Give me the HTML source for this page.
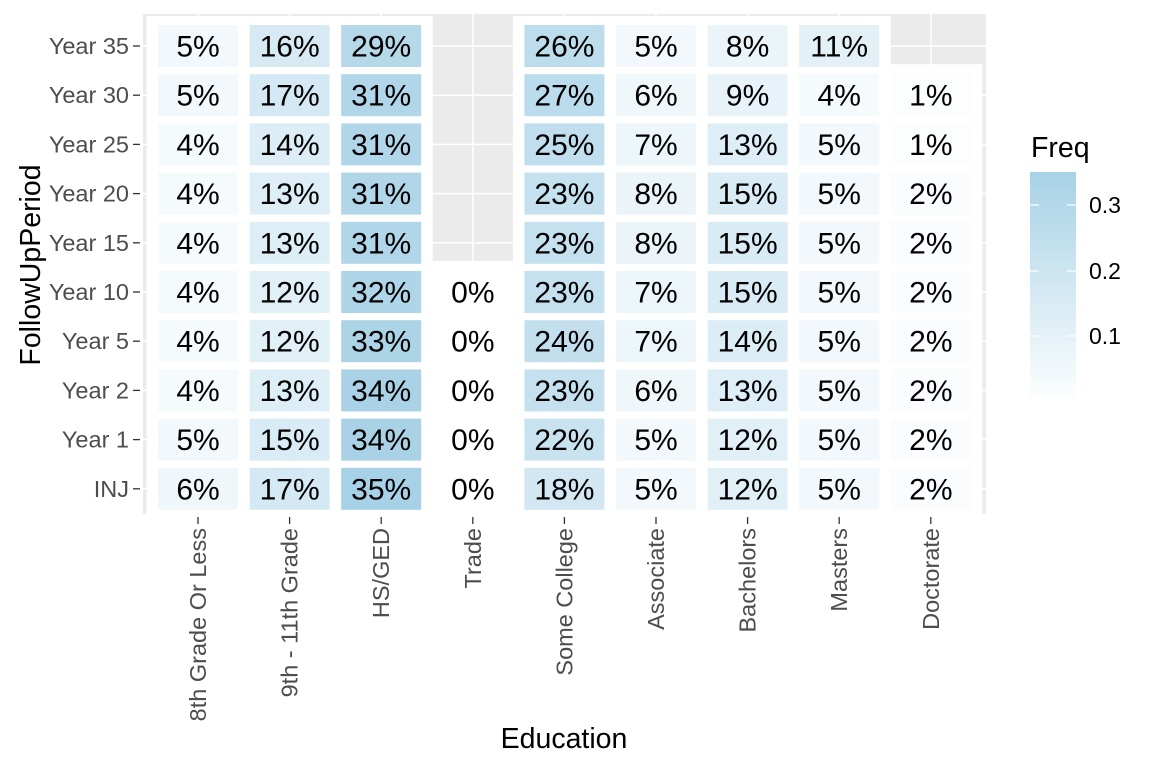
<!DOCTYPE html>
<html><head><meta charset="utf-8"><style>
html,body{margin:0;padding:0;background:#fff}
svg{display:block;font-family:"Liberation Sans",Arial,sans-serif}
.v text{font-size:30px;text-anchor:middle;fill:#000}
.yl{font-size:23.5px;fill:#4d4d4d;text-anchor:end}
.xl{font-size:23.5px;fill:#4d4d4d;text-anchor:end}
</style></head><body>
<svg width="1152" height="768" viewBox="0 0 1152 768" xmlns="http://www.w3.org/2000/svg">
<defs>
<clipPath id="pc"><rect x="143" y="14" width="843" height="500"/></clipPath>
<linearGradient id="lg" x1="0" y1="1" x2="0" y2="0"><stop offset="0" stop-color="#fcfefe"/><stop offset="1" stop-color="#a7d1e6"/></linearGradient>
</defs>
<rect x="143" y="14" width="843" height="500" fill="#ebebeb"/>
<g stroke="#fff" stroke-width="1.5">
<line x1="143" x2="986" y1="46" y2="46"/><line x1="143" x2="986" y1="95.2" y2="95.2"/><line x1="143" x2="986" y1="144.4" y2="144.4"/><line x1="143" x2="986" y1="193.6" y2="193.6"/><line x1="143" x2="986" y1="242.8" y2="242.8"/><line x1="143" x2="986" y1="292" y2="292"/><line x1="143" x2="986" y1="341.2" y2="341.2"/><line x1="143" x2="986" y1="390.4" y2="390.4"/><line x1="143" x2="986" y1="439.6" y2="439.6"/><line x1="143" x2="986" y1="488.8" y2="488.8"/>
<line y1="14" y2="514" x1="198" x2="198"/><line y1="14" y2="514" x1="289.6" x2="289.6"/><line y1="14" y2="514" x1="381.2" x2="381.2"/><line y1="14" y2="514" x1="472.8" x2="472.8"/><line y1="14" y2="514" x1="564.4" x2="564.4"/><line y1="14" y2="514" x1="656" x2="656"/><line y1="14" y2="514" x1="747.6" x2="747.6"/><line y1="14" y2="514" x1="839.2" x2="839.2"/><line y1="14" y2="514" x1="930.8" x2="930.8"/>
</g>
<g clip-path="url(#pc)" fill="#fff">
<rect x="146.5" y="16" width="286.2" height="505"/>
<rect x="512.9" y="16" width="377.8" height="505"/>
<rect x="421.3" y="261" width="103" height="260"/>
<rect x="879.3" y="64.2" width="103" height="460"/>
</g>
<g class="v">
<g transform="translate(198,46)"><rect x="-40" y="-21" width="80" height="42" fill="#f2f8fb"/><text y="10.5">5%</text></g>
<g transform="translate(289.6,46)"><rect x="-40" y="-21" width="80" height="42" fill="#d7eaf4"/><text y="10.5">16%</text></g>
<g transform="translate(381.2,46)"><rect x="-40" y="-21" width="80" height="42" fill="#b6d9ea"/><text y="10.5">29%</text></g>
<g transform="translate(564.4,46)"><rect x="-40" y="-21" width="80" height="42" fill="#beddec"/><text y="10.5">26%</text></g>
<g transform="translate(656,46)"><rect x="-40" y="-21" width="80" height="42" fill="#f2f8fb"/><text y="10.5">5%</text></g>
<g transform="translate(747.6,46)"><rect x="-40" y="-21" width="80" height="42" fill="#ebf4f9"/><text y="10.5">8%</text></g>
<g transform="translate(839.2,46)"><rect x="-40" y="-21" width="80" height="42" fill="#e3f1f7"/><text y="10.5">11%</text></g>

<g transform="translate(198,95.2)"><rect x="-40" y="-21" width="80" height="42" fill="#f2f8fb"/><text y="10.5">5%</text></g>
<g transform="translate(289.6,95.2)"><rect x="-40" y="-21" width="80" height="42" fill="#d4e9f3"/><text y="10.5">17%</text></g>
<g transform="translate(381.2,95.2)"><rect x="-40" y="-21" width="80" height="42" fill="#b1d6e9"/><text y="10.5">31%</text></g>
<g transform="translate(564.4,95.2)"><rect x="-40" y="-21" width="80" height="42" fill="#bbdcec"/><text y="10.5">27%</text></g>
<g transform="translate(656,95.2)"><rect x="-40" y="-21" width="80" height="42" fill="#f0f7fb"/><text y="10.5">6%</text></g>
<g transform="translate(747.6,95.2)"><rect x="-40" y="-21" width="80" height="42" fill="#e8f3f9"/><text y="10.5">9%</text></g>
<g transform="translate(839.2,95.2)"><rect x="-40" y="-21" width="80" height="42" fill="#f5fafc"/><text y="10.5">4%</text></g>
<g transform="translate(930.8,95.2)"><rect x="-40" y="-21" width="80" height="42" fill="#fcfefe"/><text y="10.5">1%</text></g>

<g transform="translate(198,144.4)"><rect x="-40" y="-21" width="80" height="42" fill="#f5fafc"/><text y="10.5">4%</text></g>
<g transform="translate(289.6,144.4)"><rect x="-40" y="-21" width="80" height="42" fill="#dcedf5"/><text y="10.5">14%</text></g>
<g transform="translate(381.2,144.4)"><rect x="-40" y="-21" width="80" height="42" fill="#b1d6e9"/><text y="10.5">31%</text></g>
<g transform="translate(564.4,144.4)"><rect x="-40" y="-21" width="80" height="42" fill="#c0deed"/><text y="10.5">25%</text></g>
<g transform="translate(656,144.4)"><rect x="-40" y="-21" width="80" height="42" fill="#edf6fa"/><text y="10.5">7%</text></g>
<g transform="translate(747.6,144.4)"><rect x="-40" y="-21" width="80" height="42" fill="#deeef6"/><text y="10.5">13%</text></g>
<g transform="translate(839.2,144.4)"><rect x="-40" y="-21" width="80" height="42" fill="#f2f8fb"/><text y="10.5">5%</text></g>
<g transform="translate(930.8,144.4)"><rect x="-40" y="-21" width="80" height="42" fill="#fcfefe"/><text y="10.5">1%</text></g>

<g transform="translate(198,193.6)"><rect x="-40" y="-21" width="80" height="42" fill="#f5fafc"/><text y="10.5">4%</text></g>
<g transform="translate(289.6,193.6)"><rect x="-40" y="-21" width="80" height="42" fill="#deeef6"/><text y="10.5">13%</text></g>
<g transform="translate(381.2,193.6)"><rect x="-40" y="-21" width="80" height="42" fill="#b1d6e9"/><text y="10.5">31%</text></g>
<g transform="translate(564.4,193.6)"><rect x="-40" y="-21" width="80" height="42" fill="#c5e1ef"/><text y="10.5">23%</text></g>
<g transform="translate(656,193.6)"><rect x="-40" y="-21" width="80" height="42" fill="#ebf4f9"/><text y="10.5">8%</text></g>
<g transform="translate(747.6,193.6)"><rect x="-40" y="-21" width="80" height="42" fill="#d9ebf4"/><text y="10.5">15%</text></g>
<g transform="translate(839.2,193.6)"><rect x="-40" y="-21" width="80" height="42" fill="#f2f8fb"/><text y="10.5">5%</text></g>
<g transform="translate(930.8,193.6)"><rect x="-40" y="-21" width="80" height="42" fill="#fafcfe"/><text y="10.5">2%</text></g>

<g transform="translate(198,242.8)"><rect x="-40" y="-21" width="80" height="42" fill="#f5fafc"/><text y="10.5">4%</text></g>
<g transform="translate(289.6,242.8)"><rect x="-40" y="-21" width="80" height="42" fill="#deeef6"/><text y="10.5">13%</text></g>
<g transform="translate(381.2,242.8)"><rect x="-40" y="-21" width="80" height="42" fill="#b1d6e9"/><text y="10.5">31%</text></g>
<g transform="translate(564.4,242.8)"><rect x="-40" y="-21" width="80" height="42" fill="#c5e1ef"/><text y="10.5">23%</text></g>
<g transform="translate(656,242.8)"><rect x="-40" y="-21" width="80" height="42" fill="#ebf4f9"/><text y="10.5">8%</text></g>
<g transform="translate(747.6,242.8)"><rect x="-40" y="-21" width="80" height="42" fill="#d9ebf4"/><text y="10.5">15%</text></g>
<g transform="translate(839.2,242.8)"><rect x="-40" y="-21" width="80" height="42" fill="#f2f8fb"/><text y="10.5">5%</text></g>
<g transform="translate(930.8,242.8)"><rect x="-40" y="-21" width="80" height="42" fill="#fafcfe"/><text y="10.5">2%</text></g>

<g transform="translate(198,292)"><rect x="-40" y="-21" width="80" height="42" fill="#f5fafc"/><text y="10.5">4%</text></g>
<g transform="translate(289.6,292)"><rect x="-40" y="-21" width="80" height="42" fill="#e1eff6"/><text y="10.5">12%</text></g>
<g transform="translate(381.2,292)"><rect x="-40" y="-21" width="80" height="42" fill="#afd5e8"/><text y="10.5">32%</text></g>
<g transform="translate(472.8,292)"><text y="10.5">0%</text></g>
<g transform="translate(564.4,292)"><rect x="-40" y="-21" width="80" height="42" fill="#c5e1ef"/><text y="10.5">23%</text></g>
<g transform="translate(656,292)"><rect x="-40" y="-21" width="80" height="42" fill="#edf6fa"/><text y="10.5">7%</text></g>
<g transform="translate(747.6,292)"><rect x="-40" y="-21" width="80" height="42" fill="#d9ebf4"/><text y="10.5">15%</text></g>
<g transform="translate(839.2,292)"><rect x="-40" y="-21" width="80" height="42" fill="#f2f8fb"/><text y="10.5">5%</text></g>
<g transform="translate(930.8,292)"><rect x="-40" y="-21" width="80" height="42" fill="#fafcfe"/><text y="10.5">2%</text></g>

<g transform="translate(198,341.2)"><rect x="-40" y="-21" width="80" height="42" fill="#f5fafc"/><text y="10.5">4%</text></g>
<g transform="translate(289.6,341.2)"><rect x="-40" y="-21" width="80" height="42" fill="#e1eff6"/><text y="10.5">12%</text></g>
<g transform="translate(381.2,341.2)"><rect x="-40" y="-21" width="80" height="42" fill="#acd4e7"/><text y="10.5">33%</text></g>
<g transform="translate(472.8,341.2)"><text y="10.5">0%</text></g>
<g transform="translate(564.4,341.2)"><rect x="-40" y="-21" width="80" height="42" fill="#c3dfee"/><text y="10.5">24%</text></g>
<g transform="translate(656,341.2)"><rect x="-40" y="-21" width="80" height="42" fill="#edf6fa"/><text y="10.5">7%</text></g>
<g transform="translate(747.6,341.2)"><rect x="-40" y="-21" width="80" height="42" fill="#dcedf5"/><text y="10.5">14%</text></g>
<g transform="translate(839.2,341.2)"><rect x="-40" y="-21" width="80" height="42" fill="#f2f8fb"/><text y="10.5">5%</text></g>
<g transform="translate(930.8,341.2)"><rect x="-40" y="-21" width="80" height="42" fill="#fafcfe"/><text y="10.5">2%</text></g>

<g transform="translate(198,390.4)"><rect x="-40" y="-21" width="80" height="42" fill="#f5fafc"/><text y="10.5">4%</text></g>
<g transform="translate(289.6,390.4)"><rect x="-40" y="-21" width="80" height="42" fill="#deeef6"/><text y="10.5">13%</text></g>
<g transform="translate(381.2,390.4)"><rect x="-40" y="-21" width="80" height="42" fill="#aad2e7"/><text y="10.5">34%</text></g>
<g transform="translate(472.8,390.4)"><text y="10.5">0%</text></g>
<g transform="translate(564.4,390.4)"><rect x="-40" y="-21" width="80" height="42" fill="#c5e1ef"/><text y="10.5">23%</text></g>
<g transform="translate(656,390.4)"><rect x="-40" y="-21" width="80" height="42" fill="#f0f7fb"/><text y="10.5">6%</text></g>
<g transform="translate(747.6,390.4)"><rect x="-40" y="-21" width="80" height="42" fill="#deeef6"/><text y="10.5">13%</text></g>
<g transform="translate(839.2,390.4)"><rect x="-40" y="-21" width="80" height="42" fill="#f2f8fb"/><text y="10.5">5%</text></g>
<g transform="translate(930.8,390.4)"><rect x="-40" y="-21" width="80" height="42" fill="#fafcfe"/><text y="10.5">2%</text></g>

<g transform="translate(198,439.6)"><rect x="-40" y="-21" width="80" height="42" fill="#f2f8fb"/><text y="10.5">5%</text></g>
<g transform="translate(289.6,439.6)"><rect x="-40" y="-21" width="80" height="42" fill="#d9ebf4"/><text y="10.5">15%</text></g>
<g transform="translate(381.2,439.6)"><rect x="-40" y="-21" width="80" height="42" fill="#aad2e7"/><text y="10.5">34%</text></g>
<g transform="translate(472.8,439.6)"><text y="10.5">0%</text></g>
<g transform="translate(564.4,439.6)"><rect x="-40" y="-21" width="80" height="42" fill="#c8e2ef"/><text y="10.5">22%</text></g>
<g transform="translate(656,439.6)"><rect x="-40" y="-21" width="80" height="42" fill="#f2f8fb"/><text y="10.5">5%</text></g>
<g transform="translate(747.6,439.6)"><rect x="-40" y="-21" width="80" height="42" fill="#e1eff6"/><text y="10.5">12%</text></g>
<g transform="translate(839.2,439.6)"><rect x="-40" y="-21" width="80" height="42" fill="#f2f8fb"/><text y="10.5">5%</text></g>
<g transform="translate(930.8,439.6)"><rect x="-40" y="-21" width="80" height="42" fill="#fafcfe"/><text y="10.5">2%</text></g>

<g transform="translate(198,488.8)"><rect x="-40" y="-21" width="80" height="42" fill="#f0f7fb"/><text y="10.5">6%</text></g>
<g transform="translate(289.6,488.8)"><rect x="-40" y="-21" width="80" height="42" fill="#d4e9f3"/><text y="10.5">17%</text></g>
<g transform="translate(381.2,488.8)"><rect x="-40" y="-21" width="80" height="42" fill="#a7d1e6"/><text y="10.5">35%</text></g>
<g transform="translate(472.8,488.8)"><text y="10.5">0%</text></g>
<g transform="translate(564.4,488.8)"><rect x="-40" y="-21" width="80" height="42" fill="#d2e7f2"/><text y="10.5">18%</text></g>
<g transform="translate(656,488.8)"><rect x="-40" y="-21" width="80" height="42" fill="#f2f8fb"/><text y="10.5">5%</text></g>
<g transform="translate(747.6,488.8)"><rect x="-40" y="-21" width="80" height="42" fill="#e1eff6"/><text y="10.5">12%</text></g>
<g transform="translate(839.2,488.8)"><rect x="-40" y="-21" width="80" height="42" fill="#f2f8fb"/><text y="10.5">5%</text></g>
<g transform="translate(930.8,488.8)"><rect x="-40" y="-21" width="80" height="42" fill="#fafcfe"/><text y="10.5">2%</text></g>
</g>
<g stroke="#333" stroke-width="1.3">
<line x1="133" x2="140" y1="46" y2="46"/><line x1="133" x2="140" y1="95.2" y2="95.2"/><line x1="133" x2="140" y1="144.4" y2="144.4"/><line x1="133" x2="140" y1="193.6" y2="193.6"/><line x1="133" x2="140" y1="242.8" y2="242.8"/><line x1="133" x2="140" y1="292" y2="292"/><line x1="133" x2="140" y1="341.2" y2="341.2"/><line x1="133" x2="140" y1="390.4" y2="390.4"/><line x1="133" x2="140" y1="439.6" y2="439.6"/><line x1="133" x2="140" y1="488.8" y2="488.8"/>
<line y1="517" y2="524" x1="198" x2="198"/><line y1="517" y2="524" x1="289.6" x2="289.6"/><line y1="517" y2="524" x1="381.2" x2="381.2"/><line y1="517" y2="524" x1="472.8" x2="472.8"/><line y1="517" y2="524" x1="564.4" x2="564.4"/><line y1="517" y2="524" x1="656" x2="656"/><line y1="517" y2="524" x1="747.6" x2="747.6"/><line y1="517" y2="524" x1="839.2" x2="839.2"/><line y1="517" y2="524" x1="930.8" x2="930.8"/>
</g>
<g class="yl">
<text x="129" y="54">Year 35</text><text x="129" y="103.2">Year 30</text><text x="129" y="152.4">Year 25</text><text x="129" y="201.6">Year 20</text><text x="129" y="250.8">Year 15</text><text x="129" y="300">Year 10</text><text x="129" y="349.2">Year 5</text><text x="129" y="398.4">Year 2</text><text x="129" y="447.6">Year 1</text><text x="129" y="496.8">INJ</text>
</g>
<g class="xl">
<text transform="translate(206,528) rotate(-90)">8th Grade Or Less</text>
<text transform="translate(297.6,528) rotate(-90)">9th - 11th Grade</text>
<text transform="translate(389.2,528) rotate(-90)">HS/GED</text>
<text transform="translate(480.8,528) rotate(-90)">Trade</text>
<text transform="translate(572.4,528) rotate(-90)">Some College</text>
<text transform="translate(664,528) rotate(-90)">Associate</text>
<text transform="translate(755.6,528) rotate(-90)">Bachelors</text>
<text transform="translate(847.2,528) rotate(-90)">Masters</text>
<text transform="translate(938.8,528) rotate(-90)">Doctorate</text>
</g>
<text x="564" y="748" font-size="28.5" text-anchor="middle" fill="#000">Education</text>
<text transform="translate(40,265) rotate(-90)" font-size="28.5" text-anchor="middle" fill="#000">FollowUpPeriod</text>
<text x="1031" y="157" font-size="28.5" fill="#000">Freq</text>
<rect x="1030" y="172" width="46" height="226" fill="url(#lg)"/>
<g stroke="#fff" stroke-width="1.2">
<line x1="1030" x2="1039" y1="205" y2="205"/><line x1="1067" x2="1076" y1="205" y2="205"/>
<line x1="1030" x2="1039" y1="271" y2="271"/><line x1="1067" x2="1076" y1="271" y2="271"/>
<line x1="1030" x2="1039" y1="336" y2="336"/><line x1="1067" x2="1076" y1="336" y2="336"/>
</g>
<g font-size="23" fill="#000">
<text x="1089" y="213">0.3</text><text x="1089" y="279">0.2</text><text x="1089" y="344">0.1</text>
</g>
</svg>
</body></html>
